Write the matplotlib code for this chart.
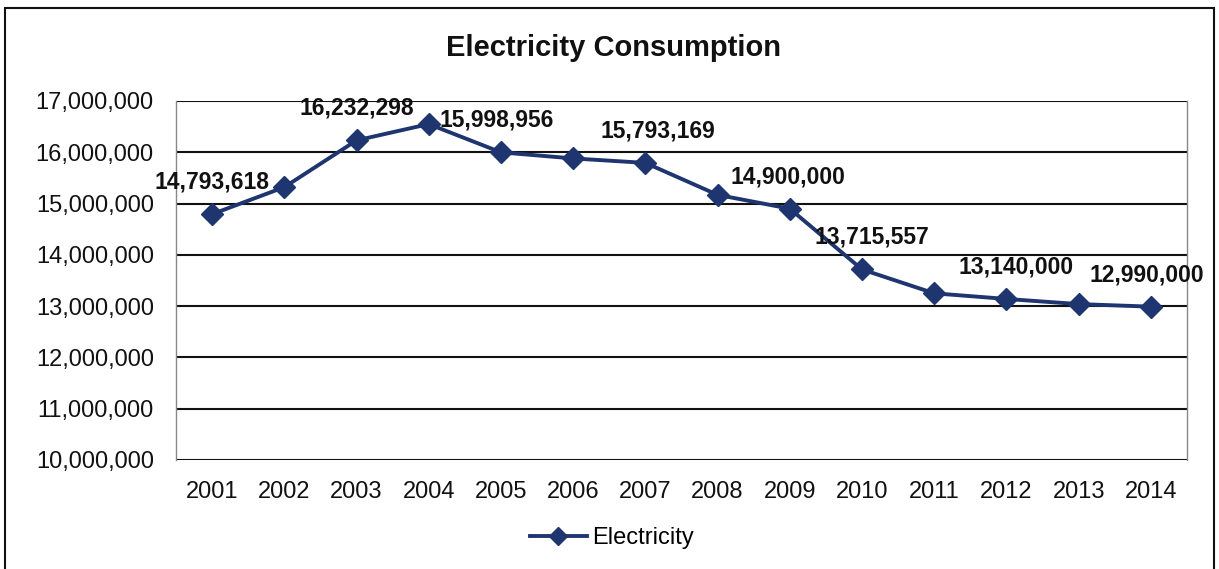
import matplotlib
matplotlib.use("Agg")
import matplotlib.pyplot as plt
from matplotlib.patches import Rectangle
from matplotlib.ticker import FuncFormatter

years = ["2001", "2002", "2003", "2004", "2005", "2006", "2007",
         "2008", "2009", "2010", "2011", "2012", "2013", "2014"]
consumption = [14793618, 15320000, 16232298, 16550000, 15998956, 15880000, 15793169,
               15170000, 14900000, 13715557, 13250000, 13140000, 13040000, 12990000]
labelled_years = ["2001", "2003", "2005", "2007", "2009", "2010", "2012", "2014"]
y_ticks = [10000000, 11000000, 12000000, 13000000, 14000000, 15000000, 16000000, 17000000]

plt.rcParams['font.family'] = ['Liberation Sans', 'DejaVu Sans']

W, H = 1219, 569
fig = plt.figure(figsize=(W / 100, H / 100), dpi=100)
ax = fig.add_axes([176 / W, 1 - 460 / H, (1187 - 176) / W, (460 - 101) / H])

color = '#1f3570'
x = list(range(len(years)))
line, = ax.plot(x, consumption, color=color, lw=2.8, marker='D', markersize=11,
                markerfacecolor=color, markeredgecolor=color, label='Electricity', zorder=3)

label_dx = {"2001": 0, "2003": 0, "2005": -4, "2007": 12, "2009": -2, "2010": 10, "2012": 10, "2014": -4}
for xi, (yr, v) in enumerate(zip(years, consumption)):
    if yr in labelled_years:
        ax.annotate(f"{v:,}", (xi, v), xytext=(label_dx[yr], 32), textcoords='offset pixels',
                    ha='center', va='center', fontsize=16.5, fontweight='bold', color='#111111',
                    annotation_clip=False, zorder=4)

ax.set_xlim(-0.5, len(years) - 0.5)
ax.set_ylim(10000000, 17000000)
ax.set_yticks(y_ticks)
ax.yaxis.set_major_formatter(FuncFormatter(lambda v, p: f"{int(v):,}"))
ax.set_xticks(x)
ax.set_xticklabels(years)
ax.tick_params(axis='both', length=0, labelsize=17, colors='#111111')
ax.tick_params(axis='x', pad=15)
ax.tick_params(axis='y', pad=16)
ax.grid(axis='y', color='#111111', lw=1.5)
ax.set_axisbelow(True)
for s in ['top', 'bottom']:
    ax.spines[s].set_visible(False)
for s in ['left', 'right']:
    ax.spines[s].set_color('#888888')
    ax.spines[s].set_linewidth(1)

fig.text(614 / W, 1 - 48 / H, "Electricity Consumption", ha='center', va='center',
         fontsize=21, fontweight='bold', color='#111111')

fig.legend(handles=[line], loc='center', bbox_to_anchor=(612 / W, 1 - 538 / H),
           frameon=False, fontsize=17, handlelength=2.4, handletextpad=0.25, markerscale=0.8)

fig.patches.append(Rectangle((5 / W, -0.05), (1214 - 5) / W, 1.05 - 8 / H,
                             transform=fig.transFigure, fill=False, edgecolor='#111111', lw=1.5))

fig.savefig("out.png", dpi=100)
